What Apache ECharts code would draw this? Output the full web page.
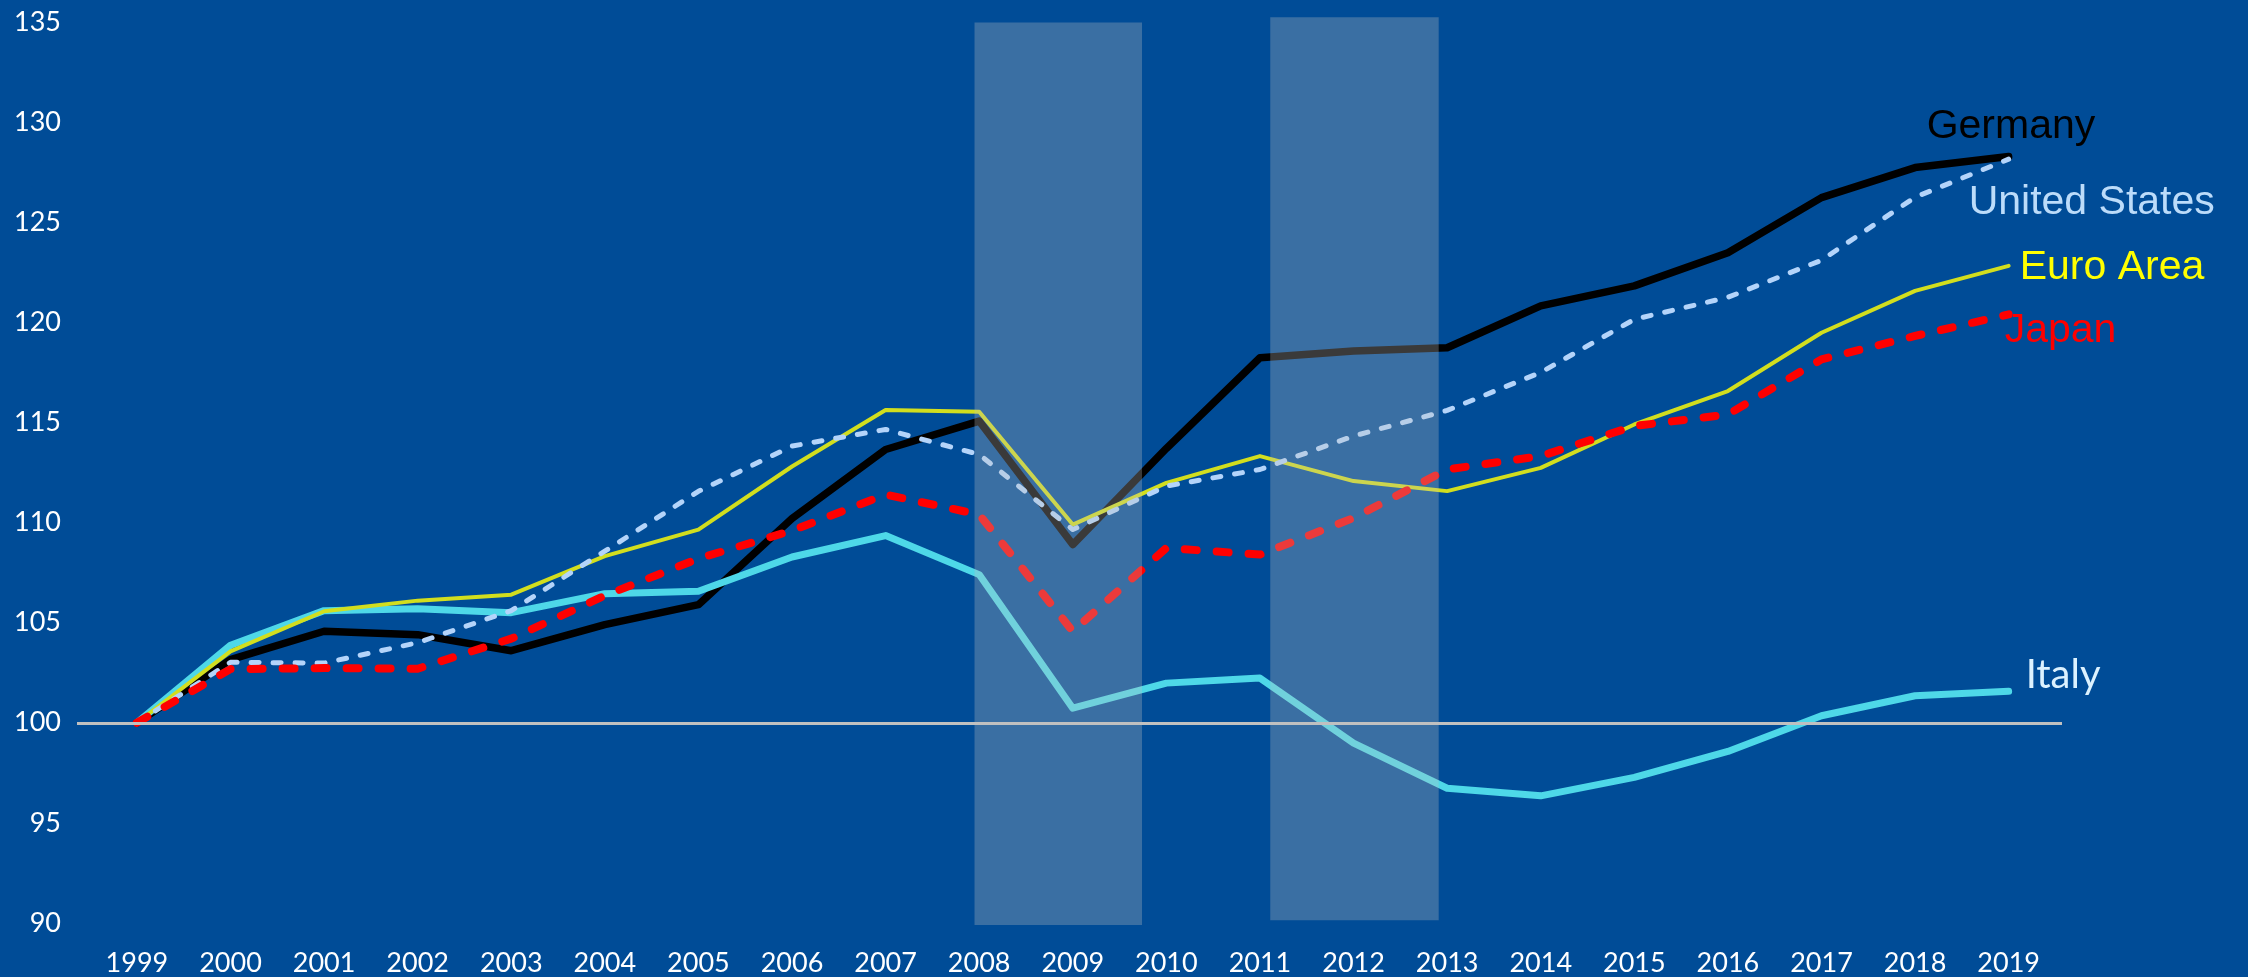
<!DOCTYPE html>
<html>
<head>
<meta charset="utf-8">
<script src="https://cdn.jsdelivr.net/npm/echarts@6/dist/echarts.min.js"></script>
<style>
  html, body { margin: 0; padding: 0; background: #004c97; }
  #chart { width: 2248px; height: 977px; }
</style>
</head>
<body>
<div id="chart"></div>
<script>
const years = [1999, 2000, 2001, 2002, 2003, 2004, 2005, 2006, 2007, 2008, 2009,
  2010, 2011, 2012, 2013, 2014, 2015, 2016, 2017, 2018, 2019]
const yTicks = [90, 95, 100, 105, 110, 115, 120, 125, 130, 135]

const germany = [100, 103.15, 104.57, 104.4, 103.6, 104.9, 105.9, 110.2, 113.65, 115.07, 108.9,
  113.7, 118.23, 118.57, 118.73, 120.82, 121.82, 123.48, 126.23, 127.73, 128.28]
const unitedStates = [100, 103.02, 102.98, 104.0, 105.6, 108.57, 111.56, 113.82, 114.65, 113.4, 109.65,
  111.82, 112.65, 114.32, 115.6, 117.5, 120.15, 121.25, 123.1, 126.25, 128.15]
const euroArea = [100, 103.57, 105.57, 106.1, 106.4, 108.32, 109.65, 112.8, 115.62, 115.53, 109.9,
  111.98, 113.32, 112.07, 111.57, 112.73, 114.9, 116.57, 119.48, 121.57, 122.82]
const japan = [100, 102.68, 102.73, 102.7, 104.2, 106.35, 108.2, 109.6, 111.4, 110.4, 104.57,
  108.73, 108.4, 110.23, 112.65, 113.32, 114.82, 115.4, 118.15, 119.32, 120.4]
const italy = [100, 103.87, 105.6, 105.7, 105.5, 106.45, 106.57, 108.28, 109.35, 107.4, 100.73,
  101.98, 102.23, 98.98, 96.73, 96.35, 97.27, 98.57, 100.35, 101.35, 101.57]

// shaded crisis periods: [fromYear, toYear, top, bottom]
const crisisBands = [
  [2007.95, 2009.74, 134.98, 89.9],
  [2011.11, 2012.91, 135.24, 90.14]
]

const pairs = (values) => values.map((v, i) => [years[i], v])

const chart = echarts.init(document.getElementById('chart'))

const lineSeries = (name, values, color, width, dash, label, z) => ({
  name: name,
  type: 'line',
  data: pairs(values),
  symbol: 'none',
  z: z,
  lineStyle: {
    color: color,
    width: width,
    type: dash || 'solid',
    cap: 'round',
    join: 'round'
  },
  endLabel: Object.assign({
    show: true,
    formatter: name,
    fontFamily: 'Liberation Sans',
    fontSize: 41,
    distance: 0,
    align: 'left',
    verticalAlign: 'middle'
  }, label),
  emphasis: { disabled: true }
})

const option = {
  backgroundColor: '#004c97',
  animation: false,
  grid: {
    left: 77,
    right: 186,
    top: 2,
    bottom: 32
  },
  xAxis: {
    type: 'value',
    min: 1998.36,
    max: 2019.57,
    axisLine: { show: false },
    axisTick: { show: false },
    splitLine: { show: false },
    axisLabel: {
      customValues: years,
      formatter: (v) => String(v),
      color: '#ffffff',
      fontFamily: 'Lato',
      fontSize: 27,
      margin: 7
    }
  },
  yAxis: {
    type: 'value',
    min: 89,
    max: 136,
    axisLine: { show: false },
    axisTick: { show: false },
    splitLine: { show: false },
    axisLabel: {
      customValues: yTicks,
      color: '#ffffff',
      fontFamily: 'Lato',
      fontSize: 27,
      margin: 16
    }
  },
  series: [
    lineSeries('Germany', germany, '#000000', 7.5, null,
      { color: '#000000', offset: [-82, -30] }, 2),
    lineSeries('Italy', italy, '#4ed8e8', 7, null,
      { color: '#dcf2ff', fontFamily: 'Lato', fontSize: 40, offset: [17, -16] }, 3),
    lineSeries('Euro Area', euroArea, '#d2de1e', 4, null,
      { color: '#ffff00', offset: [11, 2] }, 4),
    lineSeries('United States', unitedStates, '#b4d4fa', 5, [8, 14],
      { color: '#bcdcfa', offset: [-40, 44] }, 5),
    lineSeries('Japan', japan, '#ff0000', 8, [12, 20],
      { color: '#ff0000', offset: [-4, 16] }, 6),
    {
      name: 'bands',
      type: 'line',
      data: [],
      z: 10,
      markArea: {
        silent: true,
        z: 10,
        itemStyle: { color: 'rgba(193, 193, 193, 0.3)' },
        data: crisisBands.map(b => [
          { coord: [b[0], b[2]] },
          { coord: [b[1], b[3]] }
        ])
      },
      markLine: {
        silent: true,
        z: 11,
        symbol: 'none',
        label: { show: false },
        lineStyle: { color: '#c0c0c0', width: 3, type: 'solid' },
        data: [{ yAxis: 100 }]
      }
    }
  ]
}

chart.setOption(option)
</script>
</body>
</html>
